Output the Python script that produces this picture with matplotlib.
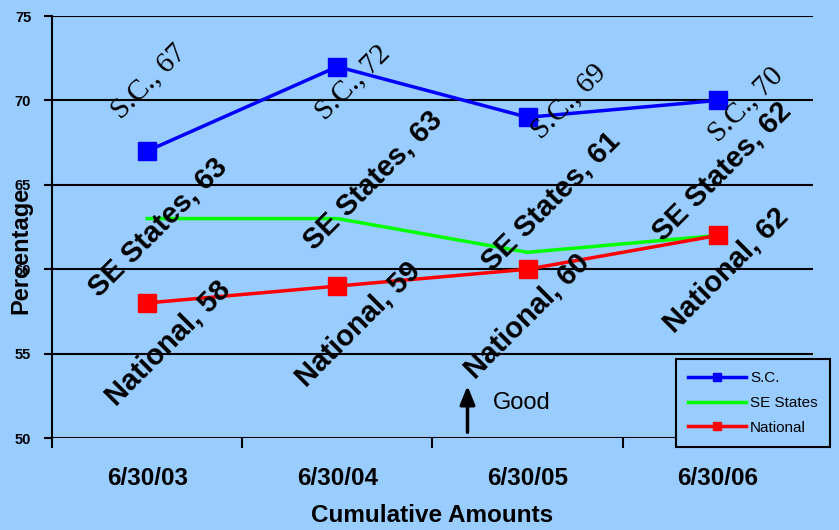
import matplotlib
matplotlib.use('Agg')
import matplotlib.pyplot as plt
import numpy as np

plt.rcParams['font.family'] = ['Liberation Sans', 'DejaVu Sans']

# data
dates = ['6/30/03', '6/30/04', '6/30/05', '6/30/06']
sc = [67, 72, 69, 70]
se_states = [63, 63, 61, 62]
national = [58, 59, 60, 62]

# label offsets (pixels) from each point, labels were moved by hand in the original
sc_off = [(2, 69), (16, -16), (41, 16), (28, -4)]
se_off = [(11, -9), (36, 38), (23, 51), (4, 64)]
nat_off = [(21, -40), (21, -38), (-1, -47), (8, -35)]

bg = '#99CCFF'
fig = plt.figure(figsize=(8.39, 5.30), dpi=100, facecolor=bg)
ax = fig.add_axes([52/839, 92/530, 761/839, 422/530])
ax.set_facecolor(bg)

x = np.arange(len(dates))
ax.plot(x, sc, color='#0000FF', lw=2.5, marker='s', ms=13.5, label='S.C.', zorder=4)
ax.plot(x, se_states, color='#00FF00', lw=2.5, label='SE States', zorder=4)
ax.plot(x, national, color='#FF0000', lw=2.5, marker='s', ms=13.5, label='National', zorder=4)

for i in range(len(dates)):
    ax.annotate('S.C., %d' % sc[i], (x[i], sc[i]), xytext=sc_off[i], textcoords='offset pixels',
                rotation=45, rotation_mode='anchor', ha='center', va='center',
                fontsize=21, fontfamily=['Liberation Serif', 'DejaVu Serif'], zorder=5)
    ax.annotate('SE States, %d' % se_states[i], (x[i], se_states[i]), xytext=se_off[i],
                textcoords='offset pixels', rotation=45, rotation_mode='anchor',
                ha='center', va='center', fontsize=21, fontweight='bold', zorder=5)
    ax.annotate('National, %d' % national[i], (x[i], national[i]), xytext=nat_off[i],
                textcoords='offset pixels', rotation=45, rotation_mode='anchor',
                ha='center', va='center', fontsize=21, fontweight='bold', zorder=5)

ax.set_xlim(-0.5, 3.5)
ax.set_ylim(50, 75)
ax.set_yticks([50, 55, 60, 65, 70, 75])
ax.yaxis.grid(True, color='black', lw=1.5)
ax.set_axisbelow(True)
for s in ['top', 'right', 'bottom']:
    ax.spines[s].set_visible(False)
ax.spines['left'].set_linewidth(1.5)
ax.spines['left'].set_bounds(50, 75)

ax.set_xticks(x)
ax.set_xticklabels(dates, fontsize=17.5, fontweight='bold')
ax.set_xticks(np.arange(-0.5, 4, 1), minor=True)
ax.tick_params(axis='x', which='major', length=0, pad=21)
ax.tick_params(axis='x', which='minor', length=7, width=1.5, direction='out')
ax.tick_params(axis='y', length=6, width=1.5, pad=9, labelsize=10.5)
for t in ax.get_yticklabels():
    t.set_fontweight('bold')

ax.set_xlabel('Cumulative Amounts', fontsize=17.5, fontweight='bold', va='center')
ax.xaxis.set_label_coords(0.5, -0.183)
ax.set_ylabel('Percentage', fontsize=17, fontweight='bold')
ax.yaxis.set_label_coords(-0.026, 0.445)

# "Good" arrow
ax.annotate('', xy=(0.546, 0.13), xytext=(0.546, 0.007), xycoords='axes fraction',
            arrowprops=dict(arrowstyle='-|>,head_width=0.45,head_length=1.1', color='black', lw=2.5))
ax.text(0.579, 0.082, 'Good', transform=ax.transAxes, fontsize=17, va='center', ha='left')

leg = ax.legend(loc='lower left', bbox_to_anchor=(676/839, 83/530), bbox_transform=fig.transFigure,
                fontsize=11, numpoints=1, markerscale=0.4, handlelength=3.8, labelspacing=0.7,
                borderpad=0.8, handletextpad=0.25, frameon=True, fancybox=False, borderaxespad=0)
leg.get_frame().set_facecolor(bg)
leg.get_frame().set_edgecolor('black')
leg.get_frame().set_linewidth(1.5)
leg.get_frame().set_alpha(1)
leg.set_zorder(10)

fig.savefig('out.png', dpi=100, facecolor=bg)
